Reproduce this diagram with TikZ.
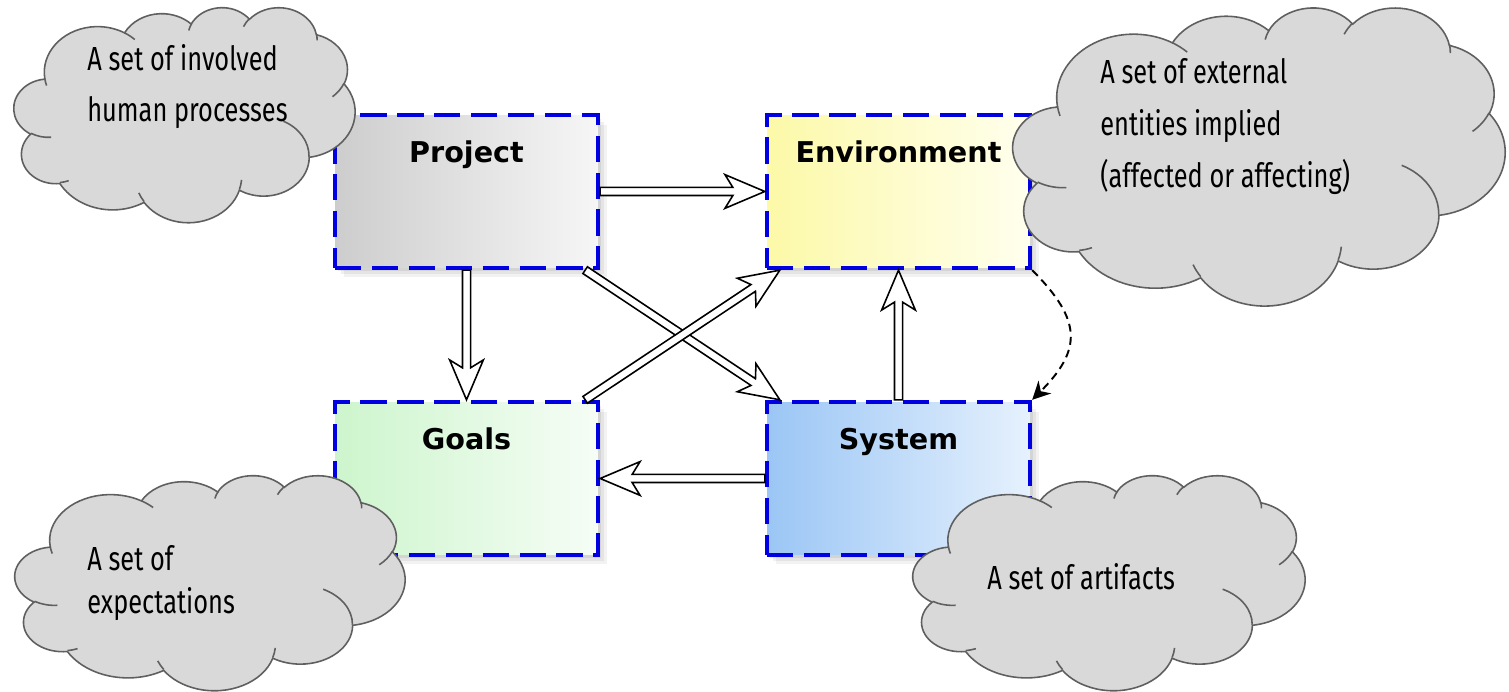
\documentclass[tikz,border=0pt]{standalone}
\usepackage{fontspec}
\setmainfont{DejaVu Sans}
\newfontfamily\cloudfont[FakeStretch=0.76]{Fira Sans}
\newfontfamily\boxfont{DejaVu Sans}
\usetikzlibrary{arrows.meta,calc}

\definecolor{projL}{RGB}{205,205,205}
\definecolor{projR}{RGB}{246,246,246}
\definecolor{envL}{RGB}{252,249,168}
\definecolor{envR}{RGB}{255,255,238}
\definecolor{goalL}{RGB}{205,245,205}
\definecolor{goalR}{RGB}{246,253,246}
\definecolor{sysL}{RGB}{155,198,245}
\definecolor{sysR}{RGB}{230,241,253}
\definecolor{dashblue}{RGB}{0,0,225}
\definecolor{cloudfill}{RGB}{217,217,217}
\definecolor{cloudedge}{RGB}{95,95,95}

\makeatletter
\newcommand\cloudarcdef[5]{%
  \pgfmathsetmacro\cl@s{atan2((#2)*sin(#4),(#3)*cos(#4))}%
  \pgfmathsetmacro\cl@e{atan2((#2)*sin((#4)+(#5)),(#3)*cos((#4)+(#5)))}%
  \pgfmathsetmacro\cl@d{\cl@e-\cl@s}%
  \pgfmathsetmacro\cl@d{\cl@d-360*round((\cl@d-(#5))/360)}%
  \expandafter\xdef\csname cS#1\endcsname{\cl@s}%
  \expandafter\xdef\csname cD#1\endcsname{\cl@d}%
}
\makeatother
% outline arcs
\cloudarcdef{a}{6.753}{9.190}{-190.4875}{123.7805}
\cloudarcdef{b}{5.333}{7.267}{-144.1024}{89.9452}
\cloudarcdef{c}{4.365}{5.945}{-145.8079}{99.7230}
\cloudarcdef{d}{4.857}{6.595}{-130.9861}{117.2417}
\cloudarcdef{e}{5.333}{7.273}{-78.7089}{109.0269}
\cloudarcdef{f}{6.775}{9.220}{-46.2673}{130.2690}
\cloudarcdef{g}{5.785}{7.867}{0.6250}{114.0333}
\cloudarcdef{h}{6.752}{9.215}{22.4516}{115.1726}
\cloudarcdef{i}{7.720}{10.543}{66.2426}{75.7110}
\cloudarcdef{j}{4.360}{5.918}{-274.9421}{146.7356}
\cloudarcdef{k}{4.345}{5.945}{-246.8285}{152.5189}
% inner arcs
\cloudarcdef{A}{4.345}{5.945}{86.7420}{26.4295}
\cloudarcdef{B}{4.360}{5.918}{73.6105}{11.4475}
\cloudarcdef{C}{6.752}{9.215}{137.6242}{14.0811}
\cloudarcdef{D}{6.752}{9.215}{6.4533}{15.9984}
\cloudarcdef{E}{5.785}{7.867}{-70.2924}{70.9174}
\cloudarcdef{F}{5.333}{7.273}{30.3180}{27.7515}
\cloudarcdef{G}{4.857}{6.595}{-13.7443}{14.8589}
\cloudarcdef{H}{4.857}{6.595}{-149.1815}{18.1954}
\cloudarcdef{I}{4.365}{5.945}{-163.4943}{17.6864}
\cloudarcdef{J}{6.753}{9.190}{-66.7070}{12.3194}
\cloudarcdef{K}{6.753}{9.190}{157.6544}{11.8582}

\newcommand\cloudshape{%
\path[cloudbody] (3.9,14.37)
 arc[x radius=6.753, y radius=9.190, start angle=\cSa, delta angle=\cDa]
 arc[x radius=5.333, y radius=7.267, start angle=\cSb, delta angle=\cDb]
 arc[x radius=4.365, y radius=5.945, start angle=\cSc, delta angle=\cDc]
 arc[x radius=4.857, y radius=6.595, start angle=\cSd, delta angle=\cDd]
 arc[x radius=5.333, y radius=7.273, start angle=\cSe, delta angle=\cDe]
 arc[x radius=6.775, y radius=9.220, start angle=\cSf, delta angle=\cDf]
 arc[x radius=5.785, y radius=7.867, start angle=\cSg, delta angle=\cDg]
 arc[x radius=6.752, y radius=9.215, start angle=\cSh, delta angle=\cDh]
 arc[x radius=7.720, y radius=10.543, start angle=\cSi, delta angle=\cDi]
 arc[x radius=4.360, y radius=5.918, start angle=\cSj, delta angle=\cDj]
 arc[x radius=4.345, y radius=5.945, start angle=\cSk, delta angle=\cDk]
 -- cycle;
\path[cloudinner]
 (4.693,26.177) arc[x radius=4.345, y radius=5.945, start angle=\cSA, delta angle=\cDA]
 (6.928,34.899) arc[x radius=4.360, y radius=5.918, start angle=\cSB, delta angle=\cDB]
 (16.478,39.090) arc[x radius=6.752, y radius=9.215, start angle=\cSC, delta angle=\cDC]
 (28.827,34.751) arc[x radius=6.752, y radius=9.215, start angle=\cSD, delta angle=\cDD]
 (34.129,22.954) arc[x radius=5.785, y radius=7.867, start angle=\cSE, delta angle=\cDE]
 (41.798,15.354) arc[x radius=5.333, y radius=7.273, start angle=\cSF, delta angle=\cDF]
 (38.324,5.426) arc[x radius=4.857, y radius=6.595, start angle=\cSG, delta angle=\cDG]
 (29.078,3.952) arc[x radius=4.857, y radius=6.595, start angle=\cSH, delta angle=\cDH]
 (22.141,4.720) arc[x radius=4.365, y radius=5.945, start angle=\cSI, delta angle=\cDI]
 (14.000,5.192) arc[x radius=6.753, y radius=9.190, start angle=\cSJ, delta angle=\cDJ]
 (4.127,15.789) arc[x radius=6.753, y radius=9.190, start angle=\cSK, delta angle=\cDK];
}

\newcommand\placecloud[4]{%
  \begin{scope}[shift={(#1,{692-(#2)})}, xscale={(#3)/43.2}, yscale={-(#4)/43.2}]
    \cloudshape
  \end{scope}}

\newcommand\blockarrow[2]{%
  \path (#1); \pgfgetlastxy{\bax}{\bay}%
  \path (#2); \pgfgetlastxy{\bbx}{\bby}%
  \pgfmathsetmacro\balen{veclen(\bbx-\bax,\bby-\bay)}%
  \pgfmathsetmacro\baang{atan2(\bby-\bay,\bbx-\bax)}%
  \pgfmathsetmacro\bneck{\balen-18.2}%
  \pgfmathsetmacro\bback{\balen-22.7}%
  \begin{scope}[shift={(\bax,\bay)}, rotate=\baang]
    \draw[blockarr] (0pt,2.3pt) -- (\bneck pt,2.3pt) -- (\bback pt,9.6pt)
      -- (\balen pt,0pt) -- (\bback pt,-9.6pt) -- (\bneck pt,-2.3pt)
      -- (0pt,-2.3pt) -- cycle;
  \end{scope}}

\tikzset{
  cloudbody/.style={fill=cloudfill, draw=cloudedge, line width=0.9pt},
  cloudinner/.style={draw=cloudedge, line width=0.9pt},
  cloudtext/.style={font=\cloudfont\fontsize{19}{29}\selectfont, align=left,
    anchor=base west, inner sep=0pt, text=black},
  cloudtextw/.style={cloudtext, font=\cloudfont\fontsize{19}{29.8}\selectfont},
  cloudtextb/.style={cloudtext, font=\cloudfont\fontsize{19}{24.5}\selectfont},
  boxlabel/.style={font=\boxfont\bfseries\fontsize{16.3}{20}\selectfont,
    anchor=base, inner sep=0pt, text=black, yshift=-1.0cm},
  softshadow/.style={
    preaction={fill=black, opacity=0.07, transform canvas={shift={(0.06cm,-0.07cm)}}},
    preaction={fill=black, opacity=0.06, transform canvas={shift={(0.12cm,-0.13cm)}}},
    preaction={fill=black, opacity=0.05, transform canvas={shift={(0.18cm,-0.19cm)}}}},
  conceptbox/.style={rectangle, draw=dashblue, line width=2.5pt,
    dash pattern=on 15pt off 6pt, minimum width=5.26cm, minimum height=3.06cm,
    softshadow},
  blockarr/.style={draw=black, fill=white, line width=0.9pt},
  dashcurve/.style={draw=black, line width=1.1pt, dash pattern=on 4.5pt off 3pt,
    -{Stealth[length=0.36cm, width=0.36cm]}}
}

\begin{document}
\begin{tikzpicture}[x=0.02cm, y=0.02cm]
\useasboundingbox (0,0) rectangle (1509,692);

% concept boxes
\node[conceptbox, left color=projL, right color=projR,
  label={[boxlabel]north:Project}] (proj) at (466.5,500.5) {};
\node[conceptbox, left color=envL, right color=envR,
  label={[boxlabel]north:Environment}] (env) at (898.5,500.5) {};
\node[conceptbox, left color=goalL, right color=goalR,
  label={[boxlabel]north:Goals}] (goals) at (466.5,213.5) {};
\node[conceptbox, left color=sysL, right color=sysR,
  label={[boxlabel]north:System}] (sys) at (898.5,213.5) {};

% offset end points of the crossing arrows
\coordinate (projX) at ($(proj.south east)+(-15,0)$);
\coordinate (sysX) at ($(sys.north west)+(15,0)$);
\coordinate (goalsX) at ($(goals.north east)+(-15,0)$);
\coordinate (envX) at ($(env.south west)+(15,0)$);

% hollow block arrows
\blockarrow{proj.east}{env.west}
\blockarrow{proj.south}{goals.north}
\blockarrow{projX}{sysX}
\blockarrow{goalsX}{envX}
\blockarrow{sys.north}{env.south}
\blockarrow{sys.west}{goals.east}

% dashed curved arrow
\draw[dashcurve] (env.south east) to[out=-45, in=45, looseness=1.4] (sys.north east);

% clouds
\placecloud{14}{7}{341}{215}
\placecloud{1013}{7}{492}{298}
\placecloud{15}{475}{390}{215}
\placecloud{913}{475}{392}{215}

% cloud texts (anchored at the baseline of their last line)
\node[cloudtext] (tTL) at (87,570.3) {A set of involved\\human processes};
\node[cloudtextw] (tTR) at (1100,504) {A set of external\\entities implied\\(affected or affecting)};
\node[cloudtextb] (tBL) at (87,78.7) {A set of\\expectations};
\node[cloudtext] (tBR) at (987,102) {A set of artifacts};
\end{tikzpicture}
\end{document}
